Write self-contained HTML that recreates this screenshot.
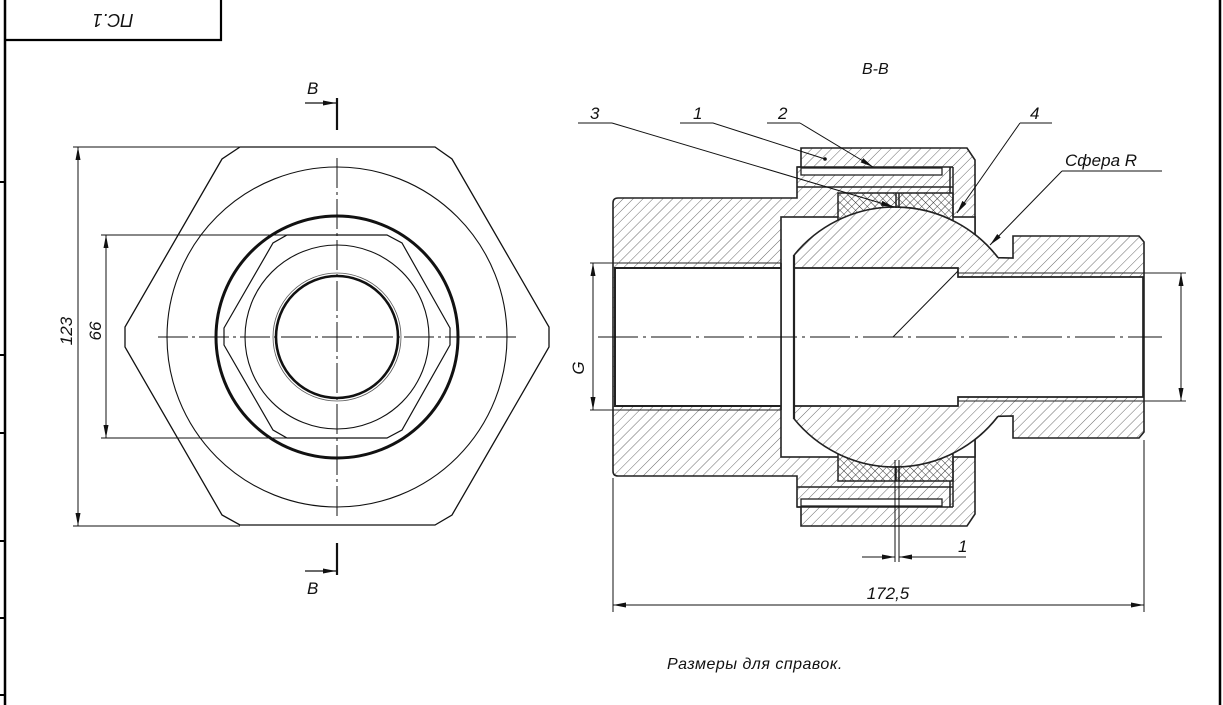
<!DOCTYPE html>
<html><head><meta charset="utf-8"><style>
html,body{margin:0;padding:0;background:#fff;}
svg{display:block;}
text{font-family:"Liberation Sans",sans-serif;font-style:italic;fill:#111;}
</style></head><body>
<svg width="1223" height="705" viewBox="0 0 1223 705" xmlns="http://www.w3.org/2000/svg">
<defs>
<pattern id="h" patternUnits="userSpaceOnUse" width="7" height="7" patternTransform="rotate(45)">
<rect width="7" height="7" fill="#fff"/><line x1="0" y1="0" x2="0" y2="7" stroke="#444" stroke-width="0.8"/></pattern>
<pattern id="x" patternUnits="userSpaceOnUse" width="5.5" height="5.5" patternTransform="rotate(45)">
<rect width="5.5" height="5.5" fill="#fff"/><line x1="0" y1="0" x2="0" y2="5.5" stroke="#222" stroke-width="0.9"/><line x1="0" y1="0" x2="5.5" y2="0" stroke="#222" stroke-width="0.9"/></pattern>
<marker id="a" markerUnits="userSpaceOnUse" markerWidth="14" markerHeight="6" refX="13" refY="2.5" orient="auto-start-reverse"><path d="M0,0 L13,2.5 L0,5 Z" fill="#111"/></marker>
</defs>
<rect width="1223" height="705" fill="#fff"/>
<!-- frame -->
<g stroke="#000" fill="none">
<line x1="5" y1="0" x2="5" y2="705" stroke-width="2.5"/>
<line x1="1220" y1="0" x2="1220" y2="705" stroke-width="2.5"/>
<polyline points="5,40 221,40 221,0" stroke-width="2.2"/>
<g stroke-width="2"><line x1="0" y1="182" x2="6" y2="182"/><line x1="0" y1="355" x2="6" y2="355"/><line x1="0" y1="433" x2="6" y2="433"/><line x1="0" y1="541" x2="6" y2="541"/><line x1="0" y1="618" x2="6" y2="618"/><line x1="0" y1="695" x2="6" y2="695"/></g>
</g>
<text x="113" y="20" font-size="18" text-anchor="middle" transform="rotate(180 113 20)" dy="6">ПС.1</text>

<!-- LEFT VIEW -->
<g stroke="#111" fill="none">
<polygon points="240,147 435,147 452,159 549,327 549,347 452,515 435,525 240,525 222,515 125,347 125,327 222,159" stroke-width="1.3"/>
<circle cx="337" cy="337" r="170" stroke-width="1.1"/>
<circle cx="337" cy="337" r="121" stroke-width="3"/>
<polygon points="287,235 387,235 402,243 450,328 450,345 402,430 387,438 287,438 273,430 224,345 224,328 273,243" stroke-width="1.2"/>
<circle cx="337" cy="337" r="92" stroke-width="1.1"/>
<circle cx="337" cy="337" r="64" stroke-width="0.8" stroke="#555"/>
<circle cx="337" cy="337" r="61" stroke-width="2.6"/>
<g stroke-width="1" stroke-dasharray="30 4 3 4">
<line x1="337" y1="158" x2="337" y2="517"/>
<line x1="158" y1="337" x2="517" y2="337"/>
</g>
<g stroke-width="1">
<line x1="73" y1="147" x2="240" y2="147"/>
<line x1="73" y1="526" x2="240" y2="526"/>
<line x1="78" y1="147" x2="78" y2="526" marker-start="url(#a)" marker-end="url(#a)"/>
<line x1="101" y1="235" x2="287" y2="235"/>
<line x1="101" y1="438" x2="287" y2="438"/>
<line x1="106" y1="235" x2="106" y2="438" marker-start="url(#a)" marker-end="url(#a)"/>
</g>
<line x1="337" y1="98" x2="337" y2="130" stroke-width="2.2"/>
<line x1="337" y1="543" x2="337" y2="575" stroke-width="2.2"/>
<line x1="305" y1="103" x2="336" y2="103" stroke-width="1.2" marker-end="url(#a)"/>
<line x1="305" y1="571" x2="336" y2="571" stroke-width="1.2" marker-end="url(#a)"/>
</g>
<text x="307" y="94" font-size="17">B</text>
<text x="307" y="594" font-size="17">B</text>
<text x="0" y="0" font-size="17" text-anchor="middle" transform="translate(72 331) rotate(-90)">123</text>
<text x="0" y="0" font-size="17" text-anchor="middle" transform="translate(101 331) rotate(-90)">66</text>

<!-- SECTION VIEW -->
<path d="M613,203 Q613,198 618,198 L797,198 L797,167 L801,167 L801,148 L967,148 L975,160 L975,234.5 A130,130 0 0 1 998,257.7 L1013,258 L1013,236 L1139,236 L1144,242 L1144,432 L1139,438 L1013,438 L1013,416 L998,416.3 A130,130 0 0 1 975,439.5 L975,514 L967,526 L801,526 L801,507 L797,507 L797,476 L618,476 Q613,476 613,471 Z" fill="url(#h)" stroke="#222" stroke-width="1.6"/>
<!-- cavity -->
<rect x="781" y="217" width="194" height="240" fill="#fff" stroke="#222" stroke-width="1.6"/>
<!-- packing -->
<path d="M838,193 L953,193 L953,220.7 A130,130 0 0 0 838,220.2 Z" fill="url(#x)" stroke="#222" stroke-width="1.5"/>
<path d="M838,481 L953,481 L953,453.3 A130,130 0 0 1 838,453.8 Z" fill="url(#x)" stroke="#222" stroke-width="1.5"/>
<!-- ball -->
<path d="M794,255.2 A130,130 0 0 1 998,257.7 L998,416.3 A130,130 0 0 1 794,418.8 Z" fill="url(#h)" stroke="none"/>
<path d="M794,255.2 A130,130 0 0 1 998,257.7 M998,416.3 A130,130 0 0 1 794,418.8" fill="none" stroke="#222" stroke-width="1.6"/>
<!-- bores -->
<rect x="615" y="268" width="166" height="138" fill="#fff"/>
<rect x="794" y="268" width="164" height="138" fill="#fff"/>
<rect x="958" y="277" width="185" height="120" fill="#fff"/>
<!-- ring strips -->
<rect x="801" y="168" width="141" height="7" fill="#fff" stroke="#222" stroke-width="1.3"/>
<rect x="801" y="499" width="141" height="7" fill="#fff" stroke="#222" stroke-width="1.3"/>
<g stroke="#222" fill="none" stroke-width="1.5">
<line x1="797" y1="187" x2="953" y2="187"/>
<line x1="797" y1="487" x2="953" y2="487"/>
<line x1="797" y1="167" x2="953" y2="167"/>
<line x1="797" y1="507" x2="953" y2="507"/>
<line x1="950" y1="167" x2="950" y2="193"/>
<line x1="950" y1="481" x2="950" y2="507"/>
<line x1="953" y1="167" x2="953" y2="217"/>
<line x1="953" y1="457" x2="953" y2="507"/>
<line x1="896" y1="193" x2="896" y2="208"/>
<line x1="899" y1="193" x2="899" y2="208"/>
<line x1="896" y1="466" x2="896" y2="481"/>
<line x1="899" y1="466" x2="899" y2="481"/>
<!-- left bore -->
<polyline points="781,268 615,268 615,406 781,406" stroke-width="2"/>
<line x1="590" y1="263" x2="781" y2="263" stroke-width="1"/>
<line x1="590" y1="410" x2="781" y2="410" stroke-width="1"/>
<line x1="781" y1="263" x2="781" y2="410" stroke-width="1.6"/>
<!-- ball bore -->
<line x1="794" y1="255" x2="794" y2="419" stroke-width="2.2"/>
<polyline points="794,268 958,268 958,277 1143,277 1143,397 958,397 958,406 794,406" stroke-width="1.7"/>
<line x1="958" y1="273" x2="1186" y2="273" stroke-width="1"/>
<line x1="958" y1="401" x2="1186" y2="401" stroke-width="1"/>
</g>
<!-- centerline -->
<line x1="598" y1="337" x2="1162" y2="337" stroke="#111" stroke-width="1" stroke-dasharray="40 5 3 5"/>
<!-- dimensions -->
<g stroke="#111" fill="none" stroke-width="1">
<line x1="593" y1="263" x2="593" y2="410" marker-start="url(#a)" marker-end="url(#a)"/>
<line x1="1181" y1="273" x2="1181" y2="401" marker-start="url(#a)" marker-end="url(#a)"/>
<line x1="613" y1="478" x2="613" y2="612"/>
<line x1="1144" y1="440" x2="1144" y2="612"/>
<line x1="613" y1="605" x2="1144" y2="605" marker-start="url(#a)" marker-end="url(#a)"/>
<line x1="895" y1="460" x2="895" y2="562"/>
<line x1="899" y1="460" x2="899" y2="562"/>
<line x1="862" y1="557" x2="895" y2="557" marker-end="url(#a)"/>
<line x1="966" y1="557" x2="899" y2="557" marker-end="url(#a)"/>
<!-- radius line -->
<line x1="893" y1="337" x2="958" y2="271"/>
<!-- leaders -->
<polyline points="578,123 612,123"/>
<line x1="612" y1="123" x2="894" y2="207" marker-end="url(#a)"/>
<polyline points="680,123 713,123 825,159"/>
<polyline points="767,123 800,123"/>
<line x1="800" y1="123" x2="873" y2="167" marker-end="url(#a)"/>
<polyline points="1052,123 1020,123"/>
<line x1="1020" y1="123" x2="957" y2="213" marker-end="url(#a)"/>
<polyline points="1162,171 1062,171"/>
<line x1="1062" y1="171" x2="990" y2="245" marker-end="url(#a)"/>
</g>
<circle cx="825" cy="159" r="1.8" fill="#111"/>
<text x="862" y="74" font-size="16">B-B</text>
<text x="590" y="119" font-size="17">3</text>
<text x="693" y="119" font-size="17">1</text>
<text x="778" y="119" font-size="17">2</text>
<text x="1030" y="119" font-size="17">4</text>
<text x="1065" y="166" font-size="17">Сфера R</text>
<text x="0" y="0" font-size="17" text-anchor="middle" transform="translate(584 368) rotate(-90)">G</text>
<text x="958" y="552" font-size="17">1</text>
<text x="888" y="599" font-size="17" text-anchor="middle">172,5</text>
<text x="667" y="669" font-size="16" letter-spacing="0.5">Размеры для справок.</text>
</svg>
</body></html>
